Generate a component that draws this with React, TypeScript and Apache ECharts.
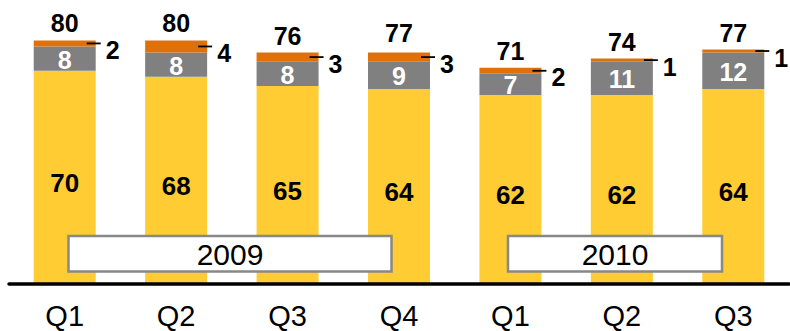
import React, { useEffect, useRef } from "react";
import * as echarts from "echarts";

// Quarterly breakdown, 2009 Q1 – 2010 Q3
const categories = ["Q1", "Q2", "Q3", "Q4", "Q1", "Q2", "Q3"];
const baseValues = [70, 68, 65, 64, 62, 62, 64];
const midValues = [8, 8, 8, 9, 7, 11, 12];
const topValues = [2, 4, 3, 3, 2, 1, 1];
const totals = [80, 80, 76, 77, 71, 74, 77];
const yearLabels = ["2009", "2010"];

const FONT = "'Liberation Sans', Arial, Helvetica, sans-serif";
const YELLOW = "#FFCC33";
const GRAY = "#808080";
const ORANGE = "#E0700A";

export default function App() {
  const ref = useRef<HTMLDivElement | null>(null);

  useEffect(() => {
    if (!ref.current) return;
    const chart = echarts.init(ref.current, null, { renderer: "svg" });

    // Framed year caption laid over the bars
    const yearBox = (x: number, w: number, text: string) => [
      {
        type: "rect",
        z: 100,
        shape: { x, y: 236, width: w, height: 35.5 },
        style: { fill: "#fff", stroke: "#888", lineWidth: 2.5 },
      },
      {
        type: "text",
        z: 101,
        x: x + w / 2,
        y: 254.5,
        style: {
          text,
          fill: "#000",
          font: `30px ${FONT}`,
          align: "center",
          verticalAlign: "middle",
        },
      },
    ];

    chart.setOption({
      animation: false,
      textStyle: { fontFamily: FONT },
      grid: { left: 9, top: 10, width: 780, height: 273.5 },
      xAxis: {
        type: "category",
        data: categories,
        z: 5,
        axisLine: { lineStyle: { color: "#000", width: 3.5 } },
        axisTick: { show: false },
        axisLabel: {
          color: "#000",
          fontSize: 29,
          fontFamily: FONT,
          margin: 18,
        },
      },
      yAxis: { type: "value", min: 0, max: 90, show: false },
      series: [
        {
          type: "bar",
          stack: "total",
          barWidth: 62,
          data: baseValues,
          itemStyle: { color: YELLOW },
          label: {
            show: true,
            position: "inside",
            offset: [0, 6],
            color: "#000",
            fontSize: 26,
            fontWeight: "bold",
            fontFamily: FONT,
          },
        },
        {
          type: "bar",
          stack: "total",
          data: midValues,
          itemStyle: { color: GRAY },
          label: {
            show: true,
            position: "inside",
            offset: [0, 1],
            color: "#fff",
            fontSize: 25,
            fontWeight: "bold",
            fontFamily: FONT,
          },
        },
        {
          type: "bar",
          stack: "total",
          data: topValues,
          itemStyle: { color: ORANGE },
          label: {
            show: true,
            position: ["100%", "50%"],
            offset: [-9, 0],
            align: "left",
            verticalAlign: "middle",
            formatter: (p: any) => `{l|}{n|${topValues[p.dataIndex]}}`,
            rich: {
              l: { width: 14, height: 1.8, backgroundColor: "#000" },
              n: {
                fontSize: 25,
                fontWeight: "bold",
                color: "#000",
                fontFamily: FONT,
                padding: [13, 0, 0, 5],
              },
            },
          },
        },
        {
          type: "scatter",
          data: totals,
          symbolSize: 1,
          silent: true,
          itemStyle: { color: "rgba(0,0,0,0)", opacity: 1 },
          label: {
            show: true,
            position: "top",
            distance: 4,
            color: "#000",
            opacity: 1,
            fontSize: 25,
            fontWeight: "bold",
            fontFamily: FONT,
          },
        },
      ],
      graphic: [
        ...yearBox(68.5, 323, yearLabels[0]),
        ...yearBox(508, 214, yearLabels[1]),
      ],
    });

    return () => chart.dispose();
  }, []);

  return (
    <div
      ref={ref}
      style={{ position: "absolute", left: 0, top: 0, width: 790, height: 331 }}
    />
  );
}
